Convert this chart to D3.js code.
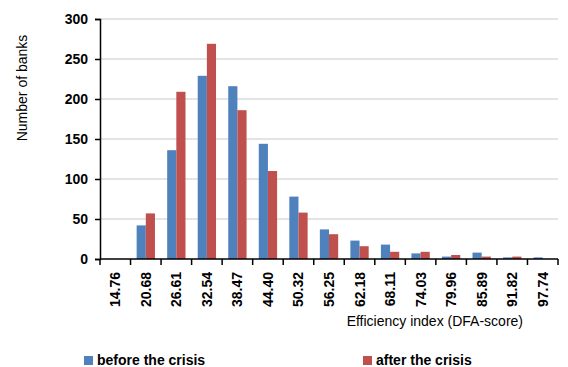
<!DOCTYPE html>
<html>
<head>
<meta charset="utf-8">
<script src="https://cdn.jsdelivr.net/npm/d3@7"></script>
<style>
  body { margin: 0; background: #fff; }
  svg { display: block; font-family: "Liberation Sans", Arial, sans-serif; }
</style>
</head>
<body>
<svg id="chart" width="568" height="367"></svg>
<script>
const categories = ["14.76","20.68","26.61","32.54","38.47","44.40","50.32","56.25","62.18","68.11","74.03","79.96","85.89","91.82","97.74"];
const before = [0, 42, 136, 229, 216, 144, 78, 37, 23, 18, 7, 3, 8, 2, 2];
const after  = [0, 57, 209, 269, 186, 110, 58, 31, 16, 9, 9, 5, 3, 3, 0];
const yTicks = [0, 50, 100, 150, 200, 250, 300];
const seriesNames = ["before the crisis", "after the crisis"];
const colors = ["#4F81BD", "#C0504D"];

const svg = d3.select("#chart");
const x0 = 100, x1 = 558, yTop = 19, yBot = 259;

// 目盛りスケール
const x = d3.scaleBand().domain(categories).range([x0, x1]).paddingInner(0).paddingOuter(0);
const xs = d3.scaleBand().domain([0, 1]).range([0, x.bandwidth()]).paddingInner(0).paddingOuter(0.667);
const y = d3.scaleLinear().domain([0, 300]).range([yBot, yTop]);

// グリッド線
svg.append("g")
  .selectAll("line")
  .data(yTicks.filter(t => t > 0))
  .join("line")
  .attr("x1", x0).attr("x2", x1)
  .attr("y1", d => y(d)).attr("y2", d => y(d))
  .attr("stroke", "#c8c8c8")
  .attr("stroke-width", 1);

// 棒
const series = [before, after];
series.forEach((vals, si) => {
  svg.append("g")
    .selectAll("rect")
    .data(vals)
    .join("rect")
    .attr("x", (d, i) => x(categories[i]) + xs(si))
    .attr("width", xs.bandwidth())
    .attr("y", d => y(d))
    .attr("height", d => yBot - y(d))
    .attr("fill", colors[si]);
});

// Y軸
const yAxis = svg.append("g")
  .attr("transform", `translate(${x0},0)`)
  .call(d3.axisLeft(y).tickValues(yTicks).tickSize(5).tickPadding(7));
yAxis.select(".domain").attr("stroke", "#000").attr("stroke-width", 1.5);
yAxis.selectAll(".tick line").attr("stroke", "#000").attr("stroke-width", 1.5);
yAxis.selectAll("text")
  .attr("font-size", 14).attr("font-weight", "bold").attr("fill", "#000")
  .attr("font-family", "Liberation Sans, Arial, sans-serif");

// X軸（区切りの位置に目盛り）
svg.append("line")
  .attr("x1", x0).attr("x2", x1)
  .attr("y1", yBot).attr("y2", yBot)
  .attr("stroke", "#000").attr("stroke-width", 1.5);
const boundaries = categories.map(c => x(c)).concat([x1]);
svg.append("g")
  .selectAll("line")
  .data(boundaries)
  .join("line")
  .attr("x1", d => d).attr("x2", d => d)
  .attr("y1", yBot).attr("y2", yBot + 6)
  .attr("stroke", "#000").attr("stroke-width", 1.5);

svg.append("g")
  .selectAll("text")
  .data(categories)
  .join("text")
  .attr("transform", d => `translate(${x(d) + x.bandwidth() / 2 + 5},${yBot + 13}) rotate(-90)`)
  .attr("text-anchor", "end")
  .attr("font-size", 14)
  .attr("font-weight", "bold")
  .text(d => d);

// 軸タイトル
svg.append("text")
  .attr("transform", "translate(27,88) rotate(-90)")
  .attr("text-anchor", "middle")
  .attr("font-size", 14)
  .text("Number of banks");

svg.append("text")
  .attr("x", 523).attr("y", 326)
  .attr("text-anchor", "end")
  .attr("font-size", 14)
  .text("Efficiency index (DFA-score)");

// 凡例
const legendX = [84, 363];
const legend = svg.append("g")
  .selectAll("g")
  .data(seriesNames)
  .join("g")
  .attr("transform", (d, i) => `translate(${legendX[i]},356)`);
legend.append("rect")
  .attr("width", 9).attr("height", 9)
  .attr("fill", (d, i) => colors[i]);
legend.append("text")
  .attr("x", 13).attr("y", 9)
  .attr("font-size", 14)
  .attr("font-weight", "bold")
  .text(d => d);
</script>
</body>
</html>
